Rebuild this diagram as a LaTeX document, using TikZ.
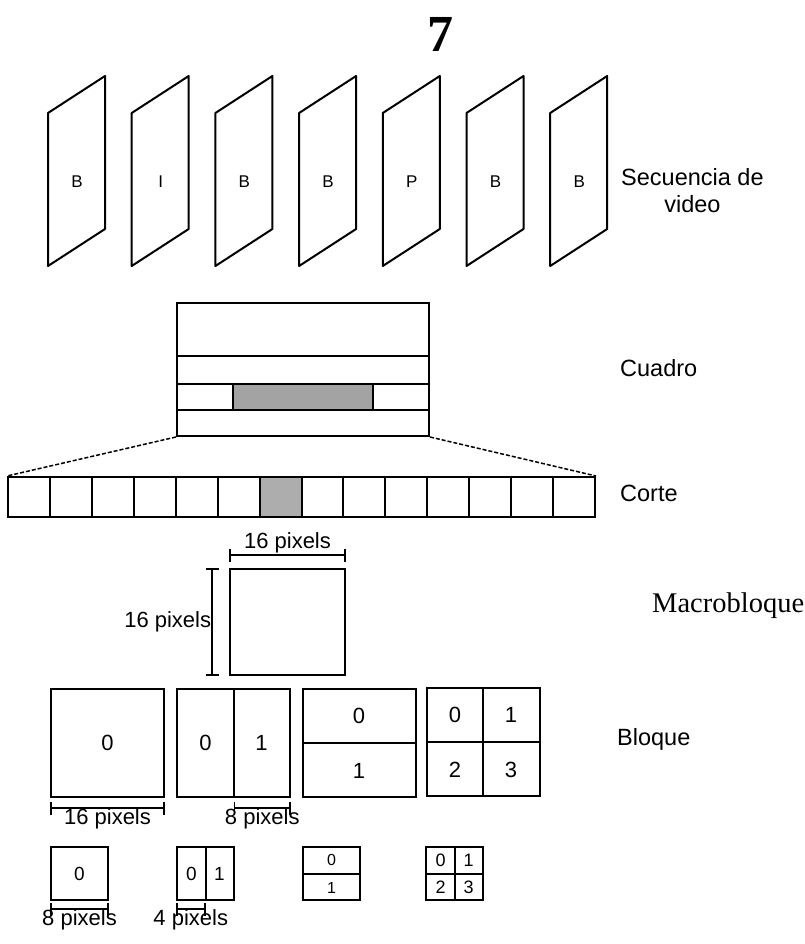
\documentclass[tikz,border=0pt]{standalone}
\usepackage{fontspec}
\setmainfont{Liberation Sans}
\newfontfamily\serifpart{Liberation Serif}
\usetikzlibrary{arrows.meta,positioning,calc}

\begin{document}
\begin{tikzpicture}[
  x=1pt, y=-1pt,
  frame/.style={line width=2pt, line join=round},
  blk/.style={draw, line width=2pt, inner sep=0pt},
  cell/.style={blk, minimum width=41.9pt, minimum height=40pt},
  lvl/.style={font=\fontsize{23.5}{27}\selectfont, align=center, inner sep=0pt, anchor=west},
  num/.style={font=\fontsize{22}{24}\selectfont, inner sep=0pt},
  dim/.style={{Bar[width=13pt]}-{Bar[width=13pt]}, line width=1.8pt},
  dimlbl/.style={font=\fontsize{22}{24}\selectfont, inner sep=1pt},
  slice/.style={dashed, dash pattern=on 4pt off 2pt, line width=1.5pt}
]
\useasboundingbox (0,0) rectangle (804,944);

\node[font=\serifpart\bfseries\fontsize{52}{52}\selectfont, inner sep=0pt] (pg) at (440,34) {7};

% secuencia de video
\foreach \ltr [count=\i from 0] in {B,I,B,B,P,B,B}{
  \pgfmathsetmacro{\fx}{48+83.7*\i}
  \draw[frame] (\fx,113) -- (\fx+57,76) -- (\fx+57,229) -- (\fx,266) -- cycle;
  \node[num, font=\fontsize{17}{20}\selectfont] (f\i) at (\fx+29,182) {\ltr};
}
\node[lvl] (seq) at (621,191) {Secuencia de\\video};

% cuadro
\node[blk, minimum width=252pt, minimum height=133pt] (cuadro) at (303,369.5) {};
\draw[frame, fill=black!36] (233,384) rectangle (373,410);
\draw[frame] (177,356) -- (429,356);
\draw[frame] (177,384) -- (429,384);
\draw[frame] (177,410) -- (429,410);
\node[lvl] (cuadrolbl) at (620,368) {Cuadro};

% corte
\foreach \i in {0,...,13}{
  \ifnum\i=6 \def\cfill{black!32}\else\def\cfill{white}\fi
  \node[cell, fill=\cfill] (c\i) at ({29+41.93*\i},497) {};
}
\draw[slice] (cuadro.south west) -- (c0.north west);
\draw[slice] (cuadro.south east) -- (c13.north east);
\node[lvl] (cortelbl) at (620,493) {Corte};

% macrobloque
\node[blk, minimum width=115pt, minimum height=106pt] (mb) at (287.5,622) {};
\draw[dim] ([yshift=13pt]mb.north west) -- ([yshift=13pt]mb.north east)
  node[dimlbl, midway, above=0pt] (mbw) {16 pixels};
\draw[dim] ([xshift=-17pt]mb.north west) -- ([xshift=-17pt]mb.south west)
  node[dimlbl, midway, left=-1pt] (mbh) {16 pixels};
\node[lvl, font=\serifpart\fontsize{28.5}{30}\selectfont] (mblbl) at (652,606) {Macrobloque};

% bloque
\node[blk, minimum width=113pt, minimum height=108pt] (b1) at (107.5,743) {};
\node[blk, minimum width=113pt, minimum height=108pt] (b2) at (233.5,743) {};
\node[blk, minimum width=113pt, minimum height=108pt] (b3) at (359,743) {};
\node[blk, minimum width=113pt, minimum height=108pt] (b4) at (483,742) {};
\draw[frame] (b2.north) -- (b2.south);
\draw[frame] (b3.west) -- (b3.east);
\draw[frame] (b4.north) -- (b4.south);
\draw[frame] (b4.west) -- (b4.east);
\node[num] (b1n0) at (b1) {0};
\node[num] (b2n0) at ([xshift=-28pt]b2.center) {0};
\node[num] (b2n1) at ([xshift=28pt]b2.center) {1};
\node[num] (b3n0) at ([yshift=27pt]b3.center) {0};
\node[num] (b3n1) at ([yshift=-28pt]b3.center) {1};
\node[num] (b4n0) at ([xshift=-28pt,yshift=27pt]b4.center) {0};
\node[num] (b4n1) at ([xshift=28pt,yshift=27pt]b4.center) {1};
\node[num] (b4n2) at ([xshift=-28pt,yshift=-28pt]b4.center) {2};
\node[num] (b4n3) at ([xshift=28pt,yshift=-28pt]b4.center) {3};
\draw[dim] ([yshift=-10pt]b1.south west) -- ([yshift=-10pt]b1.south east)
  node[dimlbl, midway, below=-1pt] (b1w) {16 pixels};
\draw[dim] ([yshift=-10pt]b2.south) -- ([yshift=-10pt]b2.south east)
  node[dimlbl, midway, below=-1pt] (b2w) {8 pixels};
\node[lvl] (bloquelbl) at (617,739) {Bloque};

% sub-bloques
\node[blk, minimum width=57pt, minimum height=53pt] (sa) at (79.5,873.5) {};
\node[blk, minimum width=57pt, minimum height=53pt] (sb) at (205.5,873.5) {};
\node[blk, minimum width=57pt, minimum height=53pt] (sc) at (331.5,873.5) {};
\node[blk, minimum width=57pt, minimum height=53pt] (sd) at (454.5,873.5) {};
\draw[frame] (sb.north) -- (sb.south);
\draw[frame] (sc.west) -- (sc.east);
\draw[frame] (sd.north) -- (sd.south);
\draw[frame] (sd.west) -- (sd.east);
\node[num, font=\fontsize{19}{20}\selectfont] (san0) at (sa) {0};
\node[num, font=\fontsize{19}{20}\selectfont] (sbn0) at ([xshift=-14pt]sb.center) {0};
\node[num, font=\fontsize{19}{20}\selectfont] (sbn1) at ([xshift=14pt]sb.center) {1};
\node[num, font=\fontsize{16}{18}\selectfont] (scn0) at ([yshift=13.5pt]sc.center) {0};
\node[num, font=\fontsize{16}{18}\selectfont] (scn1) at ([yshift=-14pt]sc.center) {1};
\node[num, font=\fontsize{18}{18}\selectfont] (sdn0) at ([xshift=-14pt,yshift=13.5pt]sd.center) {0};
\node[num, font=\fontsize{18}{18}\selectfont] (sdn1) at ([xshift=14pt,yshift=13.5pt]sd.center) {1};
\node[num, font=\fontsize{18}{18}\selectfont] (sdn2) at ([xshift=-14pt,yshift=-14pt]sd.center) {2};
\node[num, font=\fontsize{18}{18}\selectfont] (sdn3) at ([xshift=14pt,yshift=-14pt]sd.center) {3};
\draw[dim] ([yshift=-8pt]sa.south west) -- ([yshift=-8pt]sa.south east)
  node[dimlbl, midway, below=-1pt] (saw) {8 pixels};
\draw[dim] ([yshift=-8pt]sb.south west) -- ([yshift=-8pt]sb.south)
  node[dimlbl, midway, below=-1pt] (sbw) {4 pixels};

\end{tikzpicture}
\end{document}
